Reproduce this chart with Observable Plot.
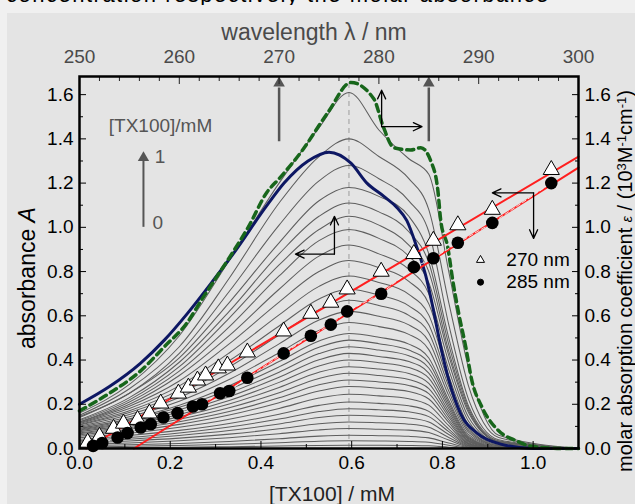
<!DOCTYPE html>
<html><head><meta charset="utf-8">
<script src="https://cdn.jsdelivr.net/npm/d3@7"></script>
<script src="https://cdn.jsdelivr.net/npm/@observablehq/plot@0.6"></script>
<style>
html,body{margin:0;padding:0;background:#f0f0f0;}
#wrap{position:relative;width:635px;height:504px;overflow:hidden;font-family:"Liberation Sans",Arial,sans-serif;}
#panel{position:absolute;left:7px;top:13px;right:0;bottom:0;background:#e4e4e4;}
#wrap svg{position:absolute;left:0;top:0;}
.ttl{position:absolute;white-space:nowrap;line-height:1;}
.ttl sup{font-size:13px;vertical-align:0.45em;line-height:0;}
</style></head><body>
<div id="wrap">
  <div id="panel"></div>
  <div style="position:absolute;left:0;top:0;width:635px;height:5px;overflow:hidden;">
    <div style="position:absolute;left:6px;top:-18px;font-size:22px;white-space:nowrap;letter-spacing:1.5px;color:#000;">concentration respectively the molar absorbance</div>
  </div>
  <div id="plots"></div>
  <div class="ttl" style="left:314px;top:21px;transform:translateX(-50%);font-size:23px;color:#4a4a4a;">wavelength λ / nm</div>
  <div class="ttl" style="left:332px;top:483px;transform:translateX(-50%);font-size:21px;color:#222;">[TX100] / mM</div>
  <div class="ttl" style="left:27px;top:278px;transform:translate(-50%,-50%) rotate(-90deg);font-size:23px;color:#000;">absorbance <i>A</i></div>
  <div class="ttl" style="left:625px;top:281px;transform:translate(-50%,-50%) rotate(-90deg);font-size:20px;color:#000;">molar absorption coefficient <i style="font-size:14px">ε</i> / (10<sup>3</sup>M<sup>-1</sup>cm<sup>-1</sup>)</div>
</div>
<script>
// ---------- axis ticks ----------
const wavelengthTicks = [250, 260, 270, 280, 290, 300];
const wavelengthMinorTicks = [252, 254, 256, 258, 262, 264, 266, 268, 272, 274, 276, 278, 282, 284, 286, 288, 292, 294, 296, 298];
const absTicks = [0, 0.2, 0.4, 0.6, 0.8, 1.0, 1.2, 1.4, 1.6];
const absMinorTicks = [0.1, 0.3, 0.5, 0.7, 0.9, 1.1, 1.3, 1.5];
const concTicks = [0, 0.2, 0.4, 0.6, 0.8, 1.0];
const concMinorTicks = [0.1, 0.3, 0.5, 0.7, 0.9];

// ---------- spectra (top axis: wavelength) ----------
const spectraWl = [250, 255, 260, 265, 270, 274, 277, 280, 283, 285, 287, 289, 292, 300];
const graySpectra = [
  [0.16, 0.29, 0.51, 0.85, 1.20, 1.45, 1.61, 1.44, 1.31, 1.24, 0.80, 0.36, 0.06, 0],
  [0.15, 0.27, 0.46, 0.77, 1.11, 1.32, 1.40, 1.32, 1.22, 1.08, 0.66, 0.28, 0.05, 0],
  [0.145, 0.25, 0.43, 0.71, 1.01, 1.21, 1.28, 1.22, 1.12, 0.98, 0.56, 0.22, 0.04, 0],
  [0.14, 0.25, 0.41, 0.66, 0.93, 1.12, 1.18, 1.14, 1.05, 0.88, 0.50, 0.19, 0.035, 0],
  [0.13, 0.23, 0.39, 0.62, 0.88, 1.05, 1.11, 1.07, 0.98, 0.84, 0.47, 0.18, 0.03, 0],
  [0.126, 0.22, 0.37, 0.59, 0.83, 0.99, 1.05, 1.01, 0.92, 0.80, 0.44, 0.17, 0.03, 0],
  [0.12, 0.21, 0.35, 0.55, 0.78, 0.94, 0.99, 0.95, 0.87, 0.75, 0.42, 0.16, 0.03, 0],
  [0.12, 0.20, 0.33, 0.51, 0.72, 0.87, 0.92, 0.88, 0.81, 0.70, 0.39, 0.14, 0.025, 0],
  [0.116, 0.191, 0.305, 0.473, 0.662, 0.80, 0.85, 0.818, 0.756, 0.654, 0.357, 0.122, 0.02, 0],
  [0.113, 0.181, 0.283, 0.432, 0.604, 0.733, 0.78, 0.751, 0.697, 0.603, 0.328, 0.105, 0.016, 0],
  [0.109, 0.171, 0.264, 0.397, 0.554, 0.676, 0.72, 0.694, 0.645, 0.559, 0.302, 0.092, 0.013, 0],
  [0.106, 0.163, 0.247, 0.369, 0.513, 0.628, 0.67, 0.647, 0.602, 0.522, 0.281, 0.082, 0.011, 0],
  [0.101, 0.154, 0.231, 0.34, 0.473, 0.581, 0.62, 0.598, 0.559, 0.485, 0.26, 0.073, 0.009, 0],
  [0.096, 0.144, 0.214, 0.312, 0.433, 0.534, 0.57, 0.551, 0.516, 0.447, 0.239, 0.063, 0.007, 0],
  [0.091, 0.134, 0.196, 0.284, 0.393, 0.486, 0.52, 0.503, 0.472, 0.409, 0.218, 0.055, 0.005, 0],
  [0.087, 0.128, 0.186, 0.267, 0.369, 0.458, 0.49, 0.474, 0.445, 0.387, 0.206, 0.05, 0.004, 0],
  [0.084, 0.121, 0.175, 0.251, 0.345, 0.429, 0.46, 0.445, 0.419, 0.364, 0.193, 0.045, 0.003, 0],
  [0.080, 0.115, 0.165, 0.234, 0.322, 0.401, 0.43, 0.416, 0.393, 0.341, 0.181, 0.041, 0.003, 0],
  [0.076, 0.108, 0.154, 0.217, 0.299, 0.373, 0.40, 0.388, 0.366, 0.318, 0.168, 0.036, 0.002, 0],
  [0.071, 0.101, 0.143, 0.201, 0.276, 0.345, 0.37, 0.359, 0.339, 0.295, 0.155, 0.033, 0.001, 0],
  [0.067, 0.094, 0.132, 0.184, 0.252, 0.317, 0.34, 0.33, 0.312, 0.271, 0.143, 0.029, 0.001, 0],
  [0.062, 0.087, 0.121, 0.167, 0.229, 0.288, 0.31, 0.301, 0.285, 0.248, 0.13, 0.025, 0, 0],
  [0.056, 0.078, 0.109, 0.151, 0.207, 0.26, 0.28, 0.272, 0.258, 0.224, 0.118, 0.022, 0, 0],
  [0.049, 0.069, 0.096, 0.132, 0.181, 0.228, 0.245, 0.238, 0.225, 0.196, 0.103, 0.02, 0, 0],
  [0.042, 0.059, 0.082, 0.113, 0.155, 0.195, 0.21, 0.204, 0.193, 0.168, 0.088, 0.017, 0, 0],
  [0.036, 0.05, 0.07, 0.097, 0.133, 0.167, 0.18, 0.175, 0.166, 0.144, 0.076, 0.014, 0, 0],
  [0.03, 0.042, 0.059, 0.081, 0.111, 0.14, 0.15, 0.146, 0.138, 0.12, 0.063, 0.012, 0, 0],
  [0.024, 0.034, 0.047, 0.065, 0.089, 0.112, 0.12, 0.116, 0.11, 0.096, 0.05, 0.01, 0, 0],
  [0.018, 0.025, 0.035, 0.049, 0.067, 0.084, 0.09, 0.087, 0.083, 0.072, 0.038, 0.007, 0, 0],
  [0.012, 0.017, 0.023, 0.032, 0.044, 0.056, 0.06, 0.058, 0.055, 0.048, 0.025, 0.005, 0, 0],
  [0.007, 0.01, 0.014, 0.019, 0.026, 0.033, 0.035, 0.034, 0.032, 0.028, 0.015, 0.003, 0, 0],
  [0.003, 0.004, 0.006, 0.008, 0.011, 0.014, 0.015, 0.015, 0.014, 0.012, 0.006, 0.001, 0, 0]
];
const blueWl = [250, 253, 256.1, 258.5, 260.8, 263.4, 265.4, 268.8, 270.5, 272.9, 275.0, 277.2, 278.8, 280.5, 281.8, 282.8, 283.8, 284.7, 285.4, 286.2, 287.0, 288.2, 289.9, 292.2, 295.5, 300];
const blueA  = [0.20, 0.28, 0.385, 0.49, 0.61, 0.76, 0.88, 1.10, 1.20, 1.30, 1.34, 1.29, 1.20, 1.14, 1.09, 1.03, 0.91, 0.78, 0.64, 0.46, 0.31, 0.157, 0.067, 0.02, 0.0, 0.0];
const greenWl = [250, 253, 256.1, 258.5, 260.8, 262.2, 263.8, 265.4, 266.9, 268.8, 270.0, 272.2, 274.9, 277.2, 279.5, 280.4, 281.5, 283.2, 284.2, 285.2, 285.9, 286.2, 286.9, 287.4, 288.0, 288.7, 289.3, 290.3, 292.0, 293.7, 295.3, 298.7, 300];
const greenA  = [0.17, 0.25, 0.35, 0.46, 0.57, 0.67, 0.78, 0.89, 1.00, 1.16, 1.22, 1.34, 1.52, 1.655, 1.58, 1.46, 1.36, 1.35, 1.36, 1.30, 1.17, 1.03, 0.91, 0.76, 0.61, 0.46, 0.31, 0.19, 0.08, 0.036, 0.01, 0.0, 0.0];
const peakWavelength = 277;
const markerWavelengths = [270, 285];

// ---------- titration points (bottom axis: concentration) ----------
const tri270Conc = [0.018, 0.044, 0.075, 0.097, 0.128, 0.154, 0.179, 0.218, 0.24, 0.26, 0.278, 0.306, 0.326, 0.37, 0.45, 0.51, 0.554, 0.59, 0.665, 0.737, 0.78, 0.834, 0.91, 1.04];
const tri270Abs  = [0.027, 0.054, 0.09, 0.113, 0.13, 0.159, 0.204, 0.249, 0.276, 0.308, 0.331, 0.363, 0.376, 0.435, 0.53, 0.61, 0.66, 0.72, 0.80, 0.88, 0.94, 1.01, 1.08, 1.26];
const circ285Conc = [0.03, 0.05, 0.084, 0.106, 0.135, 0.157, 0.185, 0.216, 0.25, 0.27, 0.31, 0.33, 0.37, 0.45, 0.51, 0.554, 0.59, 0.665, 0.737, 0.78, 0.834, 0.91, 1.04];
const circ285Abs  = [0.012, 0.025, 0.05, 0.07, 0.095, 0.11, 0.14, 0.16, 0.19, 0.20, 0.25, 0.26, 0.32, 0.43, 0.51, 0.56, 0.62, 0.70, 0.82, 0.86, 0.93, 1.02, 1.20];
const fit270Conc = [0.015, 1.1], fit270Abs = [0, 1.32];
const fit285Conc = [0.12, 1.1],  fit285Abs = [0, 1.27];
const legendLabels = ["270 nm", "285 nm"];
const legendSymbols = ["triangle", "circle"];

// ---------- annotation anchors (data units) ----------
const dirArrows = [
  {x1: 0.562, y1: 0.879, x2: 0.562, y2: 1.05},  // spectra: up
  {x1: 0.562, y1: 0.879, x2: 0.476, y2: 0.879}, // spectra: left
  {x1: 0.666, y1: 1.455, x2: 0.666, y2: 1.62},  // green: up
  {x1: 0.666, y1: 1.455, x2: 0.755, y2: 1.455}, // green: right
  {x1: 1.001, y1: 1.156, x2: 0.91, y2: 1.156},  // points: left
  {x1: 1.001, y1: 1.156, x2: 1.001, y2: 0.95}   // points: down
];

// ---------- build rows ----------
const grayRows = graySpectra.flatMap((s, i) => s.map((A, j) => ({id: i, wl: spectraWl[j], A})));
const blueRows = blueWl.map((wl, i) => ({wl, A: blueA[i]}));
const greenRows = greenWl.map((wl, i) => ({wl, A: greenA[i]}));
const triRows = tri270Conc.map((c, i) => ({c, A: tri270Abs[i]}));
const circRows = circ285Conc.map((c, i) => ({c, A: circ285Abs[i]}));
const fit270Rows = fit270Conc.map((c, i) => ({c, A: fit270Abs[i]}));
const fit285Rows = fit285Conc.map((c, i) => ({c, A: fit285Abs[i]}));
const legendRows = legendLabels.map((label, i) => ({label, symbol: legendSymbols[i], c: 0.884, A: [0.852, 0.752][i]}));

const FONT = "'Liberation Sans', Arial, sans-serif";
const common = {
  width: 635, height: 504, marginLeft: 79, marginRight: 57, marginTop: 76, marginBottom: 56,
  style: {background: "transparent", fontFamily: FONT, fontSize: "19px", color: "black", overflow: "visible"}
};
const yScale = {domain: [0, 1.682], axis: null};

const plotA = Plot.plot({
  ...common,
  x: {domain: [250, 300], axis: null},
  y: yScale,
  marks: [
    Plot.ruleX([peakWavelength], {y1: 0, y2: 1.682, stroke: "#9c9c9c", strokeDasharray: "5,4", strokeWidth: 1}),
    Plot.line(grayRows, {x: "wl", y: "A", z: "id", stroke: "#5e5e5e", strokeWidth: 1.05, curve: "monotone-x"}),
    Plot.line(blueRows, {x: "wl", y: "A", stroke: "#0d1763", strokeWidth: 3, curve: "monotone-x"}),
    Plot.line(greenRows, {x: "wl", y: "A", stroke: "#17661b", strokeWidth: 3.5, strokeDasharray: "7,5", curve: "monotone-x"}),
    Plot.ruleX(markerWavelengths, {y1: 1.387, y2: 1.63, stroke: "#555", strokeWidth: 2.5}),
    Plot.dot(markerWavelengths, {x: d => d, y: () => 1.652, symbol: "triangle", r: 4.3, fill: "#555", stroke: "none"}),
    Plot.axisX({anchor: "top", ticks: wavelengthTicks, tickSize: -7, tickPadding: 21, label: null, stroke: "#222", fill: "#4a4a4a", fontSize: 19}),
    Plot.axisX({anchor: "top", ticks: wavelengthMinorTicks, tickSize: -4, fill: "none", stroke: "#222", label: null})
  ]
});

const plotB = Plot.plot({
  ...common,
  x: {domain: [0, 1.1], axis: null},
  y: yScale,
  marks: [
    Plot.line(fit270Rows, {x: "c", y: "A", stroke: "#ff1f1f", strokeWidth: 2}),
    Plot.line(fit285Rows, {x: "c", y: "A", stroke: "#ff1f1f", strokeWidth: 2}),
    Plot.line(circRows, {x: "c", y: "A", stroke: "#f4f4f4", strokeWidth: 1, strokeDasharray: "4,3", strokeOpacity: 0.85}),
    Plot.dot(triRows, {x: "c", y: "A", symbol: "triangle", r: 6, fill: "white", stroke: "black", strokeWidth: 1}),
    Plot.dot(circRows, {x: "c", y: "A", r: 6.3, fill: "black", stroke: "none"}),
    Plot.arrow(dirArrows, {x1: "x1", y1: "y1", x2: "x2", y2: "y2", stroke: "black", strokeWidth: 1.3, headLength: 11, headAngle: 50}),
    // [TX100] concentration indicator
    Plot.ruleX([0.141], {y1: 1.0, y2: 1.30, stroke: "#555", strokeWidth: 2}),
    Plot.dot([0.141], {x: d => d, y: () => 1.315, symbol: "triangle", r: 4.2, fill: "#555", stroke: "none"}),
    Plot.text(["[TX100]/mM"], {x: () => 0.1786, y: () => 1.46, fill: "#555", fontSize: 19}),
    Plot.text(["1"], {x: () => 0.166, y: () => 1.319, textAnchor: "start", fill: "#555", fontSize: 19}),
    Plot.text(["0"], {x: () => 0.161, y: () => 1.02, textAnchor: "start", fill: "#555", fontSize: 19}),
    // legend
    Plot.dot(legendRows, {x: "c", y: "A", symbol: "symbol", r: d => d.symbol === "circle" ? 6.3 : 6, fill: d => d.symbol === "circle" ? "black" : "white", stroke: "black", strokeWidth: 1}),
    Plot.text(legendRows, {x: () => 0.941, y: "A", text: "label", textAnchor: "start", fill: "black", fontSize: 19}),
    // axes
    Plot.axisY({anchor: "left", ticks: absTicks, tickSize: -7, tickPadding: 13, tickFormat: ".1f", label: null, fontSize: 19}),
    Plot.axisY({anchor: "left", ticks: absMinorTicks, tickSize: -4, fill: "none", label: null}),
    Plot.axisY({anchor: "right", ticks: absTicks, tickSize: -7, tickPadding: 13, tickFormat: ".1f", label: null, fontSize: 19}),
    Plot.axisY({anchor: "right", ticks: absMinorTicks, tickSize: -4, fill: "none", label: null}),
    Plot.axisX({anchor: "bottom", ticks: concTicks, tickSize: -7, tickPadding: 14, tickFormat: ".1f", label: null, fontSize: 19}),
    Plot.axisX({anchor: "bottom", ticks: concMinorTicks, tickSize: -4, fill: "none", label: null}),
    Plot.frame({stroke: "black", strokeWidth: 2.5})
  ]
});

const host = document.getElementById("plots");
host.appendChild(plotA);
host.appendChild(plotB);
</script>
</body></html>
